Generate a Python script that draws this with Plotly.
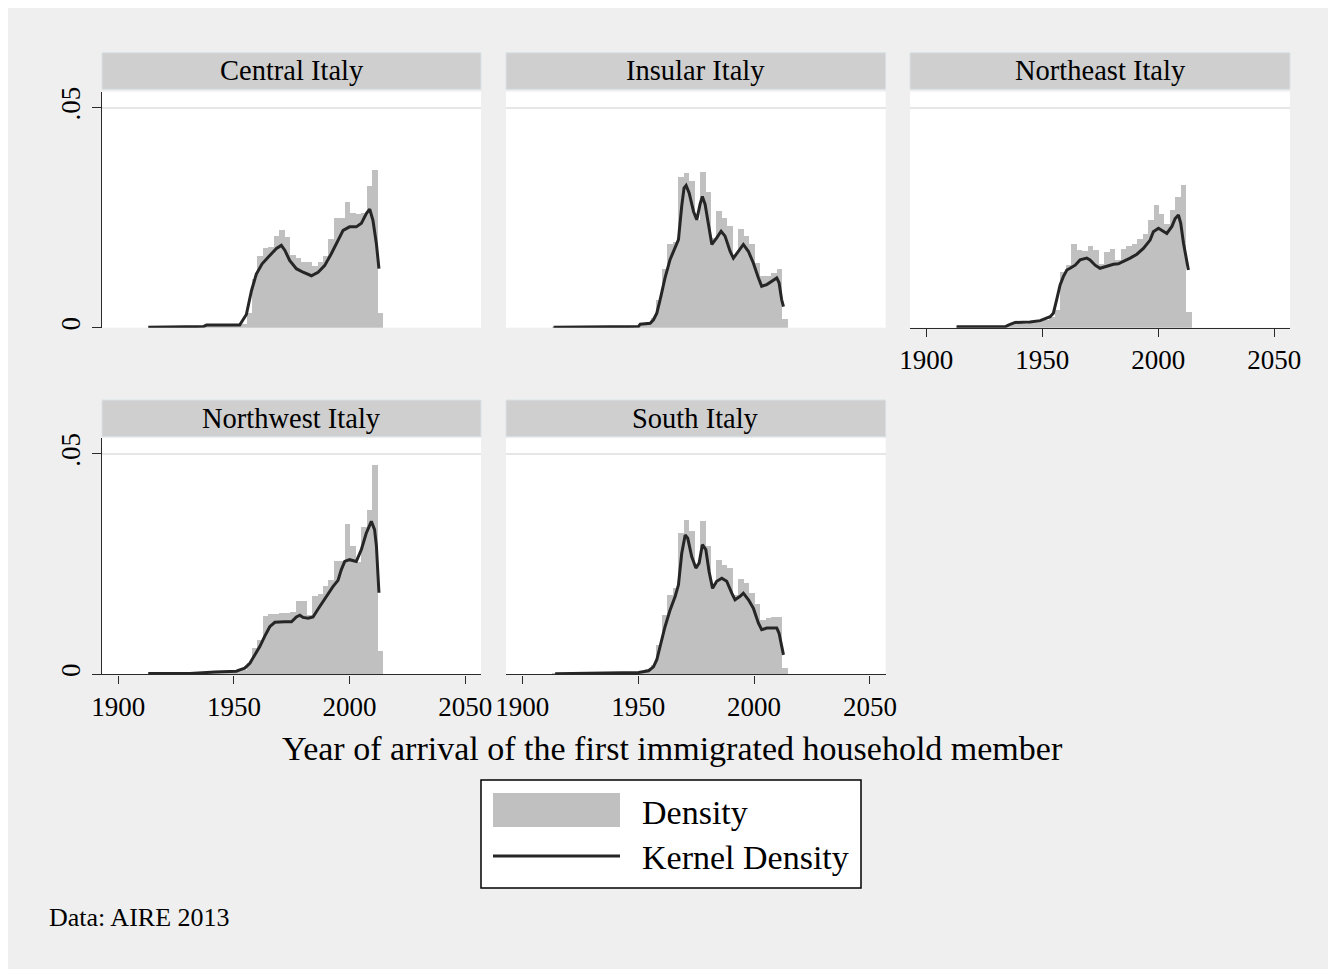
import plotly.graph_objects as go

W, H = 1336, 969

# ---------------- data ----------------
BIN_START = 1913.0
BIN_WIDTH = 2.36

regions = ["Central Italy", "Insular Italy", "Northeast Italy", "Northwest Italy", "South Italy"]

central_hist = [0.0002, 0.0002, 0.0003, 0.0002, 0.0003, 0.0003, 0.0002, 0.0003, 0.0003, 0.0004,
                0.0006, 0.0007, 0.0006, 0.0007, 0.0006, 0.0007, 0.0008, 0.0009, 0.0035,
                0.0111, 0.0163, 0.0182, 0.0185, 0.0210, 0.0223, 0.0206, 0.0165, 0.0159, 0.0149,
                0.0149, 0.0141, 0.0151, 0.0163, 0.0202, 0.0250, 0.0250, 0.0286, 0.0261, 0.0258,
                0.0262, 0.0322, 0.0359, 0.0034]
insular_hist = [0.0002, 0.0003, 0.0002, 0.0003, 0.0002, 0.0002, 0.0003, 0.0002, 0.0003, 0.0002,
                0.0003, 0.0003, 0.0002, 0.0003, 0.0003, 0.0004, 0.0008, 0.0012, 0.0023,
                0.0064, 0.0133, 0.0190, 0.0195, 0.0342, 0.0352, 0.0334, 0.0245, 0.0355, 0.0308,
                0.0205, 0.0265, 0.0250, 0.0232, 0.0165, 0.0225, 0.0210, 0.0190, 0.0148, 0.0117,
                0.0117, 0.0125, 0.0135, 0.0020]
northeast_hist = [0.0003, 0.0003, 0.0002, 0.0003, 0.0003, 0.0002, 0.0003, 0.0003, 0.0003, 0.0004,
                  0.0009, 0.0011, 0.0010, 0.0014, 0.0015, 0.0017, 0.0019, 0.0026, 0.0042,
                  0.0127, 0.0144, 0.0190, 0.0177, 0.0175, 0.0186, 0.0177, 0.0145, 0.0173, 0.0180,
                  0.0155, 0.0180, 0.0186, 0.0190, 0.0203, 0.0214, 0.0245, 0.0280, 0.0260, 0.0237,
                  0.0267, 0.0298, 0.0324, 0.0036]
northwest_hist = [0.0002, 0.0002, 0.0003, 0.0003, 0.0003, 0.0004, 0.0003, 0.0003, 0.0004, 0.0004,
                  0.0005, 0.0005, 0.0005, 0.0008, 0.0008, 0.0009, 0.0008, 0.0010, 0.0026,
                  0.0059, 0.0078, 0.0133, 0.0137, 0.0137, 0.0138, 0.0140, 0.0141, 0.0167, 0.0167,
                  0.0135, 0.0177, 0.0183, 0.0200, 0.0214, 0.0256, 0.0258, 0.0341, 0.0290, 0.0255,
                  0.0333, 0.0373, 0.0474, 0.0053]
south_hist = [0.0002, 0.0002, 0.0003, 0.0002, 0.0003, 0.0003, 0.0003, 0.0002, 0.0003, 0.0003,
              0.0004, 0.0004, 0.0003, 0.0004, 0.0005, 0.0006, 0.0008, 0.0012, 0.0022,
              0.0067, 0.0135, 0.0180, 0.0195, 0.0320, 0.0351, 0.0324, 0.0250, 0.0347, 0.0290,
              0.0205, 0.0260, 0.0248, 0.0240, 0.0180, 0.0217, 0.0207, 0.0185, 0.0160, 0.0123,
              0.0127, 0.0130, 0.0130, 0.0014]

central_kde_year = [1913, 1920, 1930, 1937, 1938.2, 1945, 1952.5, 1955.4, 1957.6, 1959.7, 1962.2,
                    1965.5, 1968.4, 1970.5, 1972, 1974.1, 1977, 1979.9, 1983.5, 1986.4, 1989.2,
                    1992.1, 1995, 1997.2, 2000, 2002.9, 2005.1, 2007.3, 2008.7, 2010.1, 2011.6, 2012.7]
central_kde = [0.0001, 0.0002, 0.0002, 0.0003, 0.0006, 0.0006, 0.0006, 0.0030, 0.0084, 0.0122, 0.0145,
               0.0164, 0.0180, 0.0187, 0.0176, 0.0153, 0.0134, 0.0126, 0.0118, 0.0126, 0.0141,
               0.0168, 0.0198, 0.0221, 0.0229, 0.0229, 0.0237, 0.0260, 0.0269, 0.0244, 0.0190, 0.0134]

insular_kde_year = [1913.5, 1927, 1940.1, 1950.2, 1950.9, 1955.2, 1956.6, 1958.05, 1959.5, 1961.6,
                    1963.8, 1966, 1967.4, 1968.8, 1969.8, 1970.7, 1972, 1973.9, 1975.3, 1976.7,
                    1977.7, 1978.9, 1980.3, 1981.8, 1983.9, 1985.8, 1987.5, 1989.7, 1991.1, 1993.3,
                    1995.4, 1997.6, 1999.7, 2001.9, 2003.3, 2005.5, 2007.6, 2009.8, 2010.8, 2011.9, 2012.7]
insular_kde = [0.0001, 0.0002, 0.0003, 0.0003, 0.0008, 0.0010, 0.0018, 0.0033, 0.0064, 0.0113,
               0.0155, 0.0181, 0.0200, 0.0276, 0.0317, 0.0323, 0.0306, 0.0264, 0.0245, 0.0280,
               0.0298, 0.0280, 0.0238, 0.0189, 0.0204, 0.0219, 0.0208, 0.0173, 0.0158, 0.0173,
               0.0189, 0.0173, 0.0147, 0.0113, 0.0094, 0.0098, 0.0105, 0.0113, 0.0102, 0.0064, 0.0048]

northeast_kde_year = [1913.1, 1925, 1934, 1935.4, 1938.3, 1944.7, 1949.1, 1953.4, 1954.8, 1956.2,
                      1957.7, 1959.1, 1960.6, 1962, 1964.2, 1966.3, 1969.2, 1970.6, 1972.8, 1974.9,
                      1977.8, 1980.7, 1982.8, 1985, 1987.9, 1990.8, 1993.6, 1996.5, 1997.9, 2000.1,
                      2002.3, 2003.7, 2005.9, 2007.3, 2008.7, 2009.7, 2010.9, 2012, 2013]
northeast_kde = [0.0002, 0.0002, 0.0002, 0.0006, 0.0012, 0.0013, 0.0016, 0.0025, 0.0033, 0.0063,
                 0.0097, 0.0116, 0.0131, 0.0135, 0.0142, 0.0154, 0.0158, 0.0154, 0.0142, 0.0135,
                 0.0140, 0.0144, 0.0145, 0.0150, 0.0158, 0.0167, 0.0180, 0.0199, 0.0218, 0.0226,
                 0.0218, 0.0214, 0.0230, 0.0248, 0.0256, 0.0237, 0.0192, 0.0161, 0.0131]

northwest_kde_year = [1913, 1931, 1941.8, 1951.1, 1952.55, 1954.7, 1956.9, 1959, 1961.2, 1963.3,
                      1965.5, 1967.7, 1969.8, 1972, 1974.9, 1977, 1978.5, 1979.9, 1982.1, 1984.2,
                      1986.4, 1988.5, 1990.7, 1992.8, 1995, 1996.4, 1997.9, 2000, 2002.9, 2005.1,
                      2007.2, 2009.4, 2010.8, 2011.6, 2012.3, 2012.7]
northwest_kde = [0.0002, 0.0002, 0.0005, 0.0007, 0.0010, 0.0014, 0.0025, 0.0044, 0.0063, 0.0086,
                 0.0108, 0.0118, 0.0119, 0.0119, 0.0119, 0.0130, 0.0134, 0.0129, 0.0127, 0.0130,
                 0.0148, 0.0165, 0.0183, 0.0199, 0.0213, 0.0237, 0.0256, 0.0260, 0.0256, 0.0283,
                 0.0320, 0.0347, 0.0328, 0.0291, 0.0223, 0.0185]

south_kde_year = [1914.2, 1925, 1940.1, 1950.2, 1954.5, 1956.6, 1958.05, 1959.5, 1961.6, 1963.8,
                  1966, 1967.4, 1968.8, 1970.3, 1971.4, 1973.1, 1974.9, 1976.3, 1977.7, 1979.2,
                  1980.6, 1982.1, 1983.9, 1986.1, 1988.2, 1990.4, 1991.8, 1994, 1995.4, 1997.6,
                  1999.7, 2001.9, 2003.3, 2005.5, 2007.6, 2009.8, 2010.8, 2011.9, 2012.7]
south_kde = [0.0001, 0.0002, 0.0002, 0.0004, 0.0008, 0.0017, 0.0033, 0.0063, 0.0108, 0.0146,
             0.0177, 0.0203, 0.0274, 0.0316, 0.0309, 0.0267, 0.0241, 0.0252, 0.0294, 0.0283,
             0.0233, 0.0195, 0.0211, 0.0218, 0.0211, 0.0184, 0.0169, 0.0177, 0.0184, 0.0169,
             0.0150, 0.0116, 0.0101, 0.0105, 0.0105, 0.0105, 0.0093, 0.0063, 0.0044]

hists = [central_hist, insular_hist, northeast_hist, northwest_hist, south_hist]
kde_years = [central_kde_year, insular_kde_year, northeast_kde_year, northwest_kde_year, south_kde_year]
kdes = [central_kde, insular_kde, northeast_kde, northwest_kde, south_kde]

x_tick_vals = [1900, 1950, 2000, 2050]
x_tick_text = ["1900", "1950", "2000", "2050"]
y_tick_vals = [0, 0.05]
y_tick_text = ["0", ".05"]

axis_title = "Year of arrival of the first immigrated household member"
legend_labels = ["Density", "Kernel Density"]
note_text = "Data: AIRE 2013"

# ---------------- style / layout ----------------
FONT = "Liberation Serif, Times New Roman, serif"
BG = "#efefef"
BAR_COLOR = "#c0c0c0"
LINE_COLOR = "#262626"
STRIP_COLOR = "#cfcfcf"

# positions measured on the photographed page (page body has an 8px margin)
PAD = 8

col_px = [(102, 481), (506, 885.7), (910, 1290)]
row_px = [(91.7, 327.7), (438.0, 674.3)]
strip_px = [(52.7, 89.3), (400.0, 436.7)]
panel_pos = [(0, 0), (1, 0), (2, 0), (0, 1), (1, 1)]
show_x = [False, False, True, True, True]
show_y = [True, False, False, True, False]

X_RANGE = [1893.0, 2056.8]
Y_RANGE = [0, 0.0536]


def fx(s):
    return (s - PAD) / W


def fy(s):
    return 1 - (s - PAD) / H


fig = go.Figure()
layout = dict(
    template="none",
    width=W, height=H,
    margin=dict(l=0, r=0, t=0, b=0, pad=0),
    paper_bgcolor=BG, plot_bgcolor="white",
    showlegend=False, bargap=0, barmode="overlay",
    font=dict(family=FONT, color="black"),
)

shapes = []
annotations = []

n_bins = len(central_hist)
centers = [BIN_START + BIN_WIDTH * (k + 0.5) for k in range(n_bins)]

for i, name in enumerate(regions):
    idx = i + 1
    xa = "x" if idx == 1 else f"x{idx}"
    ya = "y" if idx == 1 else f"y{idx}"
    col, row = panel_pos[i]
    x0, x1 = col_px[col]
    y0, y1 = row_px[row]

    fig.add_trace(go.Bar(x=centers, y=hists[i], width=BIN_WIDTH,
                         marker=dict(color=BAR_COLOR, line=dict(width=0)),
                         xaxis=xa, yaxis=ya, name="Density"))
    fig.add_trace(go.Scatter(x=kde_years[i], y=kdes[i], mode="lines",
                             line=dict(color=LINE_COLOR, width=3),
                             xaxis=xa, yaxis=ya, name="Kernel Density"))

    xkey = "xaxis" if idx == 1 else f"xaxis{idx}"
    ykey = "yaxis" if idx == 1 else f"yaxis{idx}"
    layout[xkey] = dict(
        domain=[fx(x0), fx(x1)], range=X_RANGE, anchor=ya, automargin=False,
        showgrid=False, zeroline=False,
        showline=show_x[i], linecolor="#2a2a2a", linewidth=1.4,
        ticks="outside" if show_x[i] else "", ticklen=8, tickwidth=1.4, tickcolor="#2a2a2a",
        tickvals=x_tick_vals, ticktext=x_tick_text,
        showticklabels=show_x[i], tickfont=dict(size=27, family=FONT, color="black"),
        ticklabelstandoff=0,
    )
    layout[ykey] = dict(
        domain=[fy(y1), fy(y0)], range=Y_RANGE, anchor=xa, automargin=False,
        showgrid=True, gridcolor="#e6e6e6", gridwidth=2, zeroline=False,
        showline=show_y[i], linecolor="#2a2a2a", linewidth=1.4,
        ticks="outside" if show_y[i] else "", ticklen=9, tickwidth=1.4, tickcolor="#2a2a2a",
        tickvals=y_tick_vals, ticktext=y_tick_text, tickangle=-90,
        showticklabels=show_y[i], tickfont=dict(size=27, family=FONT, color="black"),
        ticklabelstandoff=1,
    )

    # strip header
    s0, s1 = strip_px[row]
    shapes.append(dict(type="rect", xref="paper", yref="paper",
                       x0=fx(x0), x1=fx(x1), y0=fy(s1), y1=fy(s0),
                       fillcolor=STRIP_COLOR, line=dict(color="#d9e2e6", width=1), layer="below"))
    annotations.append(dict(text=name, xref="paper", yref="paper",
                            x=fx((x0 + x1) / 2), y=fy((s0 + s1) / 2),
                            xanchor="center", yanchor="middle", showarrow=False,
                            font=dict(size=28.5, family=FONT, color="black")))

# axis title
annotations.append(dict(text=axis_title, xref="paper", yref="paper",
                        x=fx(672), y=fy(748), xanchor="center", yanchor="middle",
                        showarrow=False, font=dict(size=34, family=FONT, color="black")))

# legend (drawn)
shapes.append(dict(type="rect", xref="paper", yref="paper",
                   x0=fx(481), x1=fx(861), y0=fy(888), y1=fy(780),
                   fillcolor="white", line=dict(color="black", width=1.5)))
shapes.append(dict(type="rect", xref="paper", yref="paper",
                   x0=fx(493), x1=fx(620), y0=fy(827), y1=fy(793),
                   fillcolor=BAR_COLOR, line=dict(width=0)))
shapes.append(dict(type="line", xref="paper", yref="paper",
                   x0=fx(493), x1=fx(620), y0=fy(856), y1=fy(856),
                   line=dict(color=LINE_COLOR, width=3)))
annotations.append(dict(text=legend_labels[0], xref="paper", yref="paper",
                        x=fx(640), y=fy(812), xanchor="left", yanchor="middle",
                        showarrow=False, font=dict(size=34, family=FONT, color="black")))
annotations.append(dict(text=legend_labels[1], xref="paper", yref="paper",
                        x=fx(640), y=fy(857), xanchor="left", yanchor="middle",
                        showarrow=False, font=dict(size=34, family=FONT, color="black")))

# note
annotations.append(dict(text=note_text, xref="paper", yref="paper",
                        x=fx(47), y=fy(917), xanchor="left", yanchor="middle",
                        showarrow=False, font=dict(size=26, family=FONT, color="black")))

layout["shapes"] = shapes
layout["annotations"] = annotations
fig.update_layout(**layout)

fig.write_html("out.html")
